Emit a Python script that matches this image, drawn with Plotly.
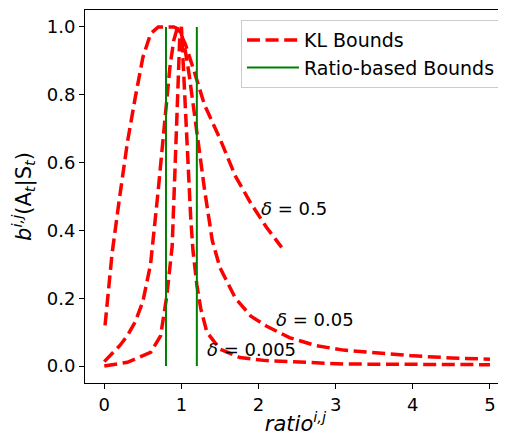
import plotly.graph_objects as go

# values
x_d05 = [0.01, 0.05, 0.1, 0.2, 0.3, 0.4, 0.5, 0.6, 0.7, 0.8, 0.9, 0.95, 1.05, 1.15, 1.3, 1.5, 1.7, 1.9, 2.1, 2.3]
y_d05 = [0.12, 0.22, 0.33, 0.50, 0.66, 0.79, 0.91, 0.98, 1.0, 1.0, 1.0, 0.995, 0.95, 0.88, 0.77, 0.67, 0.56, 0.48, 0.41, 0.35]

x_d005 = [0.0, 0.1, 0.2, 0.3, 0.4, 0.5, 0.6, 0.7, 0.75, 0.8, 0.85, 0.9, 0.95, 1.0, 1.05, 1.1, 1.2, 1.3,
          1.4, 1.5, 1.6, 1.7, 1.9, 2.1, 2.4, 2.75, 3.1, 3.5, 4.0, 4.5, 5.0]
y_d005 = [0.013, 0.035, 0.06, 0.09, 0.13, 0.19, 0.30, 0.52, 0.64, 0.77, 0.88, 0.96, 1.0, 0.98, 0.93, 0.86, 0.69, 0.52,
          0.37, 0.29, 0.245, 0.2, 0.147, 0.118, 0.084, 0.06, 0.047, 0.04, 0.03, 0.024, 0.02]

x_d0005 = [0.0, 0.3, 0.6, 0.73, 0.81, 0.88, 0.92, 0.94, 0.96, 0.98, 1.0, 1.02, 1.05, 1.08, 1.12, 1.15, 1.2, 1.25,
           1.33, 1.5, 1.76, 2.1, 2.5, 3.1, 4.0, 5.0]
y_d0005 = [0.0, 0.011, 0.04, 0.089, 0.206, 0.353, 0.6, 0.75, 0.9, 0.98, 1.0, 0.9, 0.76, 0.62, 0.44, 0.34, 0.24, 0.17,
           0.1, 0.05, 0.025, 0.016, 0.011, 0.006, 0.005, 0.004]

ratio_bounds = [0.8, 1.2]
delta_labels = ["0.5", "0.05", "0.005"]
label_pos = [(2.0, 0.466), (2.2, 0.138), (1.31, 0.05)]

red_line = dict(color="red", width=3.5, dash="13px,5.6px")

fig = go.Figure()
curves = [(x_d05, y_d05), (x_d005, y_d005), (x_d0005, y_d0005)]
for i, (xs, ys) in enumerate(curves):
    fig.add_trace(go.Scatter(
        x=xs, y=ys, mode="lines", line=red_line,
        name="KL Bounds", showlegend=(i == 0)
    ))

gx, gy = [], []
for r in ratio_bounds:
    gx += [r, r, None]
    gy += [0, 1, None]
fig.add_trace(go.Scatter(
    x=gx, y=gy, mode="lines", line=dict(color="green", width=2),
    name="Ratio-based Bounds"
))

for txt, (tx, ty) in zip(delta_labels, label_pos):
    fig.add_annotation(
        x=tx, y=ty, text="<i>δ</i> = " + txt, showarrow=False,
        xanchor="left", yanchor="middle",
        font=dict(size=18, color="black")
    )

axis_common = dict(
    showline=True, linecolor="black", linewidth=1.1,
    ticks="outside", ticklen=5, tickwidth=1.1, tickcolor="black",
    showgrid=False, zeroline=False, automargin=False,
    tickfont=dict(size=18, color="black")
)

# the page body keeps its 8px margin, so the figure is 8px smaller on each side
fig.update_layout(
    width=498, height=428,
    margin=dict(l=77, r=0, t=2, b=53),
    plot_bgcolor="white", paper_bgcolor="white",
    font=dict(family="DejaVu Sans", color="black"),
    xaxis=dict(
        range=[-0.25, 5.208], tickvals=[0, 1, 2, 3, 4, 5], mirror=True,
        title=dict(text="<i>ratio</i><sup><i>i,j</i></sup>", font=dict(size=21), standoff=4),
        **axis_common
    ),
    yaxis=dict(
        range=[-0.05, 1.05], tickvals=[0, 0.2, 0.4, 0.6, 0.8, 1.0], tickformat=".1f",
        title=dict(text="<i>b</i><sup><i>i,j</i></sup>(A<sub><i>t</i></sub>|S<sub><i>t</i></sub>)",
                   font=dict(size=21), standoff=10),
        **axis_common
    ),
    legend=dict(
        x=0.3705, y=0.973, xanchor="left", yanchor="top", itemwidth=52,
        bgcolor="rgba(255,255,255,0.8)", bordercolor="#cccccc", borderwidth=1,
        font=dict(size=19, color="black")
    )
)

fig.write_html("out.html")
